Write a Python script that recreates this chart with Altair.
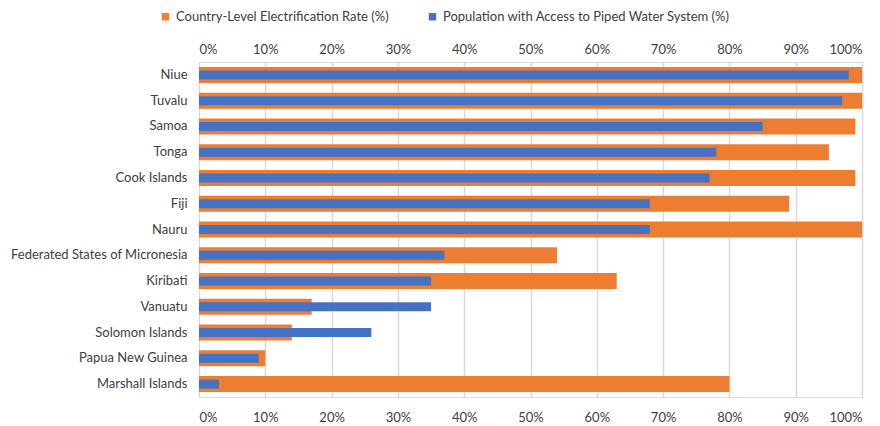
import altair as alt
import pandas as pd

countries = ["Niue", "Tuvalu", "Samoa", "Tonga", "Cook Islands", "Fiji", "Nauru",
             "Federated States of Micronesia", "Kiribati", "Vanuatu", "Solomon Islands",
             "Papua New Guinea", "Marshall Islands"]
electrification = [100, 100, 99, 95, 99, 89, 100, 54, 63, 17, 14, 10, 80]
piped_water = [98, 97, 85, 78, 77, 68, 68, 37, 35, 35, 26, 9, 3]

s_elec = "Country-Level Electrification Rate (%)"
s_water = "Population with Access to Piped Water System (%)"

rows = []
for c, e in zip(countries, electrification):
    rows.append({"country": c, "value": e, "series": s_elec})
for c, w in zip(countries, piped_water):
    rows.append({"country": c, "value": w, "series": s_water})
df = pd.DataFrame(rows)

FONT = "Lato"
FS = 13
TXT = "#404040"
color_scale = alt.Scale(domain=[s_elec, s_water], range=["#ED7D31", "#4472C4"])
x_scale = alt.Scale(domain=[0, 100], nice=False, zero=True)
y_enc = alt.Y("country:N", sort=countries, title=None,
              axis=alt.Axis(ticks=False, domain=False, labelPadding=12,
                            labelFontSize=FS, labelColor=TXT, labelFont=FONT))

base = alt.Chart(df)

orange = base.transform_filter(alt.datum.series == s_elec).mark_bar(size=16).encode(
    x=alt.X("value:Q", scale=x_scale, title=None,
            axis=alt.Axis(orient="bottom", values=list(range(0, 101, 10)),
                          labelExpr="datum.value + '%'", ticks=False, domain=False,
                          grid=True, gridColor="#d9d9d9", gridWidth=1.5,
                          labelFontSize=FS, labelColor=TXT, labelFont=FONT,
                          labelPadding=14)),
    y=y_enc,
    color=alt.Color("series:N", scale=color_scale, title=None,
                    legend=alt.Legend(orient="none", legendX=-40, legendY=-52,
                                      direction="horizontal", symbolType="square",
                                      symbolSize=55, labelFontSize=FS, labelFont=FONT,
                                      labelColor=TXT, columnPadding=37,
                                      labelLimit=400, symbolStrokeWidth=0,
                                      labelOffset=4, padding=0)),
)

blue = base.transform_filter(alt.datum.series == s_water).mark_bar(size=9).encode(
    x=alt.X("value:Q", scale=x_scale, title=None,
            axis=alt.Axis(orient="top", values=list(range(0, 101, 10)),
                          labelExpr="datum.value + '%'", ticks=False, domain=False,
                          grid=False,
                          labelFontSize=FS, labelColor=TXT, labelFont=FONT,
                          labelPadding=6)),
    y=y_enc,
    color=alt.Color("series:N", scale=color_scale, title=None),
)

chart = alt.layer(orange, blue).resolve_axis(x="independent").properties(
    width=663, height=335,
    autosize=alt.AutoSizeParams(type="none"),
    padding={"left": 191, "top": 54, "right": 10, "bottom": 28},
).configure_view(stroke=None).configure(background="white")

chart.save("out.html", embed_options={"renderer": "svg", "actions": False})
